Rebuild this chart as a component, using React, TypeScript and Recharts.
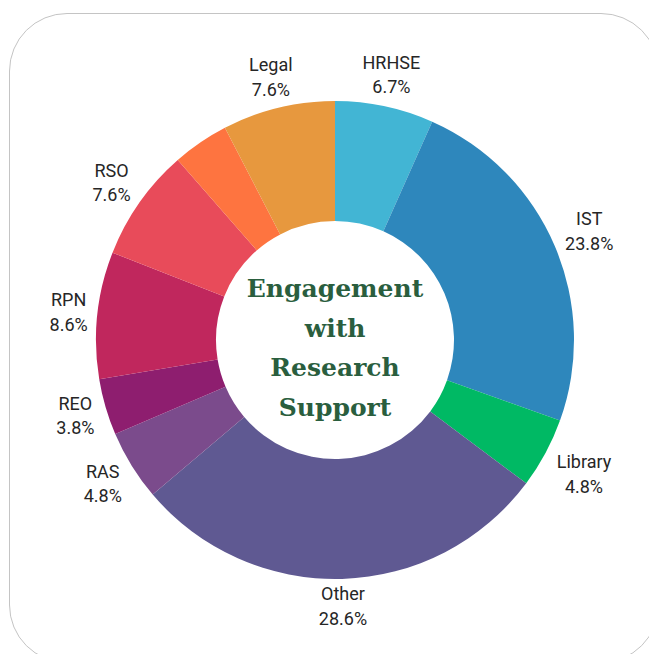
import { PieChart, Pie, Cell } from "recharts";

// Engagement counts per support unit (out of 105 responses)
const units = ["HRHSE", "IST", "Library", "Other", "RAS", "REO", "RPN", "RSO", "Unlabelled", "Legal"];
const counts = [7, 25, 5, 30, 5, 4, 9, 8, 4, 8];
const colors = [
  "#42b5d4",
  "#2e87bc",
  "#00b964",
  "#5f5992",
  "#7b4b8c",
  "#8e1e6f",
  "#c0275d",
  "#e84b5a",
  "#fe7440",
  "#e7983e",
];
// units whose label is hidden in the picture
const hiddenLabels = ["Unlabelled"];
const titleLines = ["Engagement", "with", "Research", "Support"];

const data = units.map((name, i) => ({ name, value: counts[i] }));

const LABEL_FONT = 18;
const RAD = Math.PI / 180;

function textWidth(s: string) {
  let w = 0;
  for (const ch of s) {
    if (ch === "%") w += 0.73;
    else if (ch === ".") w += 0.26;
    else if (/[0-9]/.test(ch)) w += 0.56;
    else if (/[A-Z]/.test(ch)) w += 0.63;
    else w += 0.46;
  }
  return w * LABEL_FONT;
}

function SliceLabel(props: any) {
  const { cx, cy, midAngle, outerRadius, name, percent } = props;
  if (hiddenLabels.includes(name)) return null;
  const pct = `${(percent * 100).toFixed(1)}%`;
  const w = Math.max(textWidth(name), textWidth(pct));
  const h = 37.5;
  const ux = Math.cos(-midAngle * RAD);
  const uy = Math.sin(-midAngle * RAD);
  const r = outerRadius + 8 + (w / 2) * Math.abs(ux) + (h / 2) * Math.abs(uy);
  const x = cx + r * ux;
  const y = cy + r * uy;
  return (
    <text
      x={x}
      y={y}
      textAnchor="middle"
      fontFamily="Roboto, sans-serif"
      fontSize={LABEL_FONT}
      fill="#262626"
    >
      <tspan x={x} y={y - 5.9}>
        {name}
      </tspan>
      <tspan x={x} y={y + 18.6}>
        {pct}
      </tspan>
    </text>
  );
}

export default function App() {
  return (
    <div style={{ position: "relative", width: 657, height: 654, margin: "-8px 0 0 -8px", background: "#fff" }}>
      <div
        style={{
          position: "absolute",
          left: 9,
          top: 13,
          width: 650,
          height: 650,
          border: "1.5px solid #c4c4c4",
          borderRadius: 58,
          boxSizing: "border-box",
        }}
      />
      <div style={{ position: "absolute", left: 0, top: 0 }}>
        <PieChart width={657} height={654} margin={{ top: 0, right: 0, bottom: 0, left: 0 }}>
          <Pie
            data={data}
            dataKey="value"
            nameKey="name"
            cx={335}
            cy={340}
            innerRadius={119}
            outerRadius={239}
            startAngle={90}
            endAngle={-270}
            stroke="none"
            labelLine={false}
            label={SliceLabel}
            isAnimationActive={false}
          >
            {data.map((d, i) => (
              <Cell key={d.name} fill={colors[i]} />
            ))}
          </Pie>
          <text
            x={335}
            y={297}
            textAnchor="middle"
            fontFamily="'DejaVu Serif', serif"
            fontWeight="bold"
            fontSize={25}
            fill="#2a5e3e"
          >
            {titleLines.map((line, i) => (
              <tspan key={line} x={335} y={297 + i * 39.5}>
                {line}
              </tspan>
            ))}
          </text>
        </PieChart>
      </div>
    </div>
  );
}
